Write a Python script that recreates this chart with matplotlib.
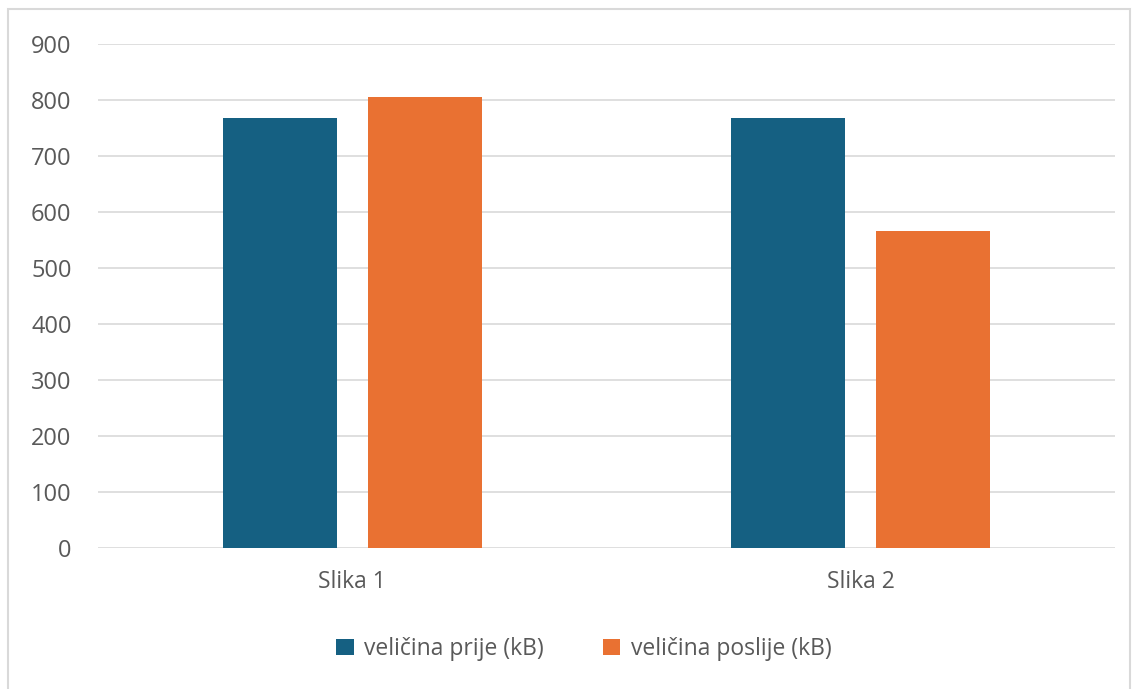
import numpy as np
import matplotlib.pyplot as plt
from matplotlib.patches import Rectangle

categories = ["Slika 1", "Slika 2"]
prije = [768, 768]
poslije = [805, 566]
series_names = ["veličina prije (kB)", "veličina poslije (kB)"]
colors = ["#156082", "#E97132"]

plt.rcParams['font.family'] = ['Open Sans', 'DejaVu Sans']
text_color = "#595959"

fig = plt.figure(figsize=(11.38, 6.89), dpi=100)
ax = fig.add_axes([98 / 1138, 141 / 689, 1017 / 1138, 504 / 689])

# border of the chart area
fig.patches.append(Rectangle((8 / 1138, -0.01), 1122 / 1138, 1 - 9 / 689 + 0.01,
                             transform=fig.transFigure, fill=False,
                             edgecolor="#d9d9d9", linewidth=1.5))

x = np.arange(len(categories))
w = 0.224
gap = 0.061
ax.bar(x - (w + gap) / 2, prije, w, color=colors[0], label=series_names[0], zorder=3)
ax.bar(x + (w + gap) / 2, poslije, w, color=colors[1], label=series_names[1], zorder=3)

ax.set_xlim(-0.5, 1.5)
ax.set_ylim(0, 900)
ax.set_yticks(np.arange(0, 901, 100))
ax.set_xticks(x)
ax.set_xticklabels(categories)
ax.grid(axis="y", color="#d9d9d9", linewidth=1.2, zorder=0)
for s in ax.spines.values():
    s.set_visible(False)
ax.tick_params(axis="both", length=0, colors=text_color)
ax.tick_params(axis="y", pad=19, labelsize=17)
ax.tick_params(axis="x", pad=16, labelsize=16.5)

leg = fig.legend(loc="center", bbox_to_anchor=(584 / 1138, 1 - 649 / 689), ncol=2,
                 frameon=False, fontsize=16.5, handlelength=0.75, handleheight=0.75,
                 handletextpad=0.45, columnspacing=2.6)
for t in leg.get_texts():
    t.set_color(text_color)

fig.savefig("out.png", dpi=100)
